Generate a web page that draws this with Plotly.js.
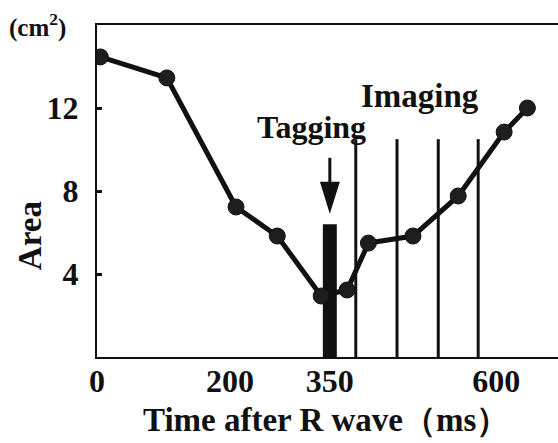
<!DOCTYPE html>
<html>
<head>
<meta charset="utf-8">
<script src="https://cdn.plot.ly/plotly-3.0.1.min.js"></script>
<style>html,body{margin:0;padding:0;background:#fff;}#chart{width:558px;height:443px;}</style>
</head>
<body>
<div id="chart"></div>
<script>
// Area curve
const timeMs = [5, 105, 209, 271, 337, 376, 408, 475, 543, 612, 647];
const areaCm2 = [14.46, 13.45, 7.23, 5.83, 2.94, 3.23, 5.49, 5.83, 7.76, 10.84, 12.0];
// Tagging pulse
const taggingTime = [350];
const taggingHeight = [6.4];
// Imaging pulses
const imagingTimes = [389, 451, 513, 573];
const imagingHeights = [10.5, 10.5, 10.5, 10.5];
// Tick labels
const xTickVals = [0, 200, 350, 600];
const xTickText = ['0', '200', '350', '600'];
const xTickMarks = [200, 400, 600];
const yTickVals = [4, 8, 12];
const yTickText = ['4', '8', '12'];

const serif = '"Liberation Serif", "Times New Roman", serif';
const ink = '#111';

const traces = [
  {type: 'bar', x: taggingTime, y: taggingHeight, width: 21,
   marker: {color: ink, line: {width: 0}}, hoverinfo: 'skip'},
  {type: 'bar', x: imagingTimes, y: imagingHeights, width: 4.5,
   marker: {color: ink, line: {width: 0}}, hoverinfo: 'skip'},
  {type: 'scatter', mode: 'lines+markers', x: timeMs, y: areaCm2,
   line: {color: ink, width: 5},
   marker: {size: 16, color: '#1e1e1e', line: {color: ink, width: 1}}}
];

const layout = {
  width: 558, height: 443,
  margin: {l: 97, r: 0, t: 25, b: 86},
  paper_bgcolor: '#fff', plot_bgcolor: '#fff',
  showlegend: false,
  barmode: 'overlay',
  font: {family: serif, color: ink},
  xaxis: {
    range: [0, 693], showgrid: false, zeroline: false,
    showline: true, linecolor: ink, linewidth: 2, mirror: true,
    tickvals: xTickVals, ticktext: xTickText, ticks: '',
    tickfont: {family: serif, size: 32, weight: 'bold', color: ink},
    ticklabelstandoff: -5
  },
  xaxis2: {
    overlaying: 'x', anchor: 'y', range: [0, 693], showgrid: false, zeroline: false,
    showline: false, tickvals: xTickMarks, ticks: 'inside', ticklen: 5, tickwidth: 3, tickcolor: ink,
    showticklabels: false
  },
  yaxis: {
    range: [0, 16], showgrid: false, zeroline: false,
    showline: true, linecolor: ink, linewidth: 2,
    tickvals: yTickVals, ticktext: yTickText, ticks: 'inside', ticklen: 5, tickwidth: 3, tickcolor: ink,
    tickfont: {family: serif, size: 32, weight: 'bold', color: ink},
    ticklabelstandoff: 10
  },
  annotations: [
    {xref: 'paper', yref: 'paper', x: -0.145, y: 0.3645, textangle: -90, xanchor: 'center', yanchor: 'middle',
     text: 'Area', showarrow: false, font: {family: serif, size: 33, weight: 'bold', color: ink}},
    {xref: 'paper', yref: 'paper', x: 0.497, y: -0.19, xanchor: 'center', yanchor: 'middle',
     text: 'Time after R wave（ms）', showarrow: false, font: {family: serif, size: 33, weight: 'bold', color: ink}},
    {xref: 'paper', yref: 'paper', x: -0.195, y: 1.0, xanchor: 'left', yanchor: 'middle',
     text: '(cm<sup>2</sup>)', showarrow: false, font: {family: serif, size: 25, weight: 'bold', color: ink}},
    {xref: 'x', yref: 'y', x: 322, y: 11.08, text: 'Tagging', showarrow: false,
     font: {family: serif, size: 32, weight: 'bold', color: ink}},
    {xref: 'x', yref: 'y', x: 486, y: 12.58, text: 'Imaging', showarrow: false,
     font: {family: serif, size: 33, weight: 'bold', color: ink}}
  ],
  shapes: [
    {type: 'line', xref: 'x', yref: 'y', x0: 350, x1: 350, y0: 8.3, y1: 9.6,
     line: {color: ink, width: 3}},
    {type: 'path', xref: 'x', yref: 'y', path: 'M 335 8.45 L 365 8.45 L 350 6.9 Z',
     fillcolor: ink, line: {color: ink, width: 0}}
  ]
};

Plotly.newPlot('chart', traces, layout, {displayModeBar: false, staticPlot: true});
</script>
</body>
</html>
